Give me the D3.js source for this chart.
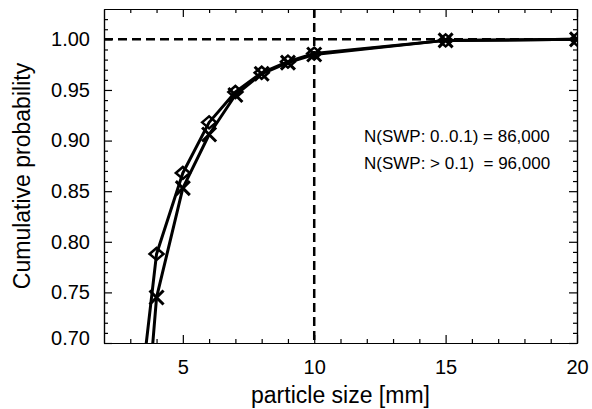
<!DOCTYPE html>
<html>
<head>
<meta charset="utf-8">
<script src="https://cdn.jsdelivr.net/npm/d3@7"></script>
<style>
  body { margin: 0; background: #fff; }
  text { font-family: "Liberation Sans", Arial, sans-serif; fill: #000; }
</style>
</head>
<body>
<svg id="chart"></svg>
<script>
const width = 592;
const height = 409;
const margin = { top: 9, right: 15, bottom: 66, left: 104 };

// data
const sizes = [3, 4, 5, 6, 7, 8, 9, 10, 15, 20];
const probSmall = [0.563, 0.788, 0.868, 0.918, 0.948, 0.967, 0.978, 0.986, 0.999, 1.0]; // diamonds
const probLarge = [0.43, 0.745, 0.853, 0.906, 0.945, 0.966, 0.977, 0.985, 0.999, 1.0]; // crosses
const xTicks = [5, 10, 15, 20];
const yTicks = [0.70, 0.75, 0.80, 0.85, 0.90, 0.95, 1.00];
const notes = ['N(SWP: 0..0.1) = 86,000', 'N(SWP: > 0.1)  = 96,000'];

const svg = d3.select('#chart').attr('width', width).attr('height', height);

const x = d3.scaleLinear().domain([2, 20]).range([margin.left, width - margin.right]);
const y = d3.scaleLinear().domain([0.7, 1.03]).range([height - margin.bottom, margin.top]);

const pBottom = y.range()[0], pTop = y.range()[1], pLeft = x.range()[0], pRight = x.range()[1];

svg.append('clipPath').attr('id', 'clip')
  .append('rect')
  .attr('x', pLeft).attr('y', pTop)
  .attr('width', pRight - pLeft)
  .attr('height', pBottom - pTop);

// axes: major + minor ticks on all four sides, pointing inward
const xMinor = d3.range(3, 20, 1).filter(d => d % 5 !== 0);
const yMinor = d3.range(71, 103, 1).filter(d => d % 5 !== 0).map(d => d / 100);

function axisGroup(axis, tx, ty) {
  const g = svg.append('g').attr('transform', `translate(${tx},${ty})`).call(axis);
  g.select('.domain').attr('stroke', '#000').attr('stroke-width', 1.2);
  g.selectAll('.tick line').attr('stroke', '#000').attr('stroke-width', 1.2);
  return g;
}

const xb = axisGroup(d3.axisBottom(x).tickValues(xTicks).tickSizeInner(-8).tickSizeOuter(0).tickPadding(17).tickFormat(d3.format('d')), 0, pBottom);
xb.selectAll('text').style('font-size', '20px');
axisGroup(d3.axisBottom(x).tickValues(xMinor).tickSizeInner(-4).tickSizeOuter(0).tickFormat(''), 0, pBottom);
axisGroup(d3.axisTop(x).tickValues(xTicks).tickSizeInner(-8).tickSizeOuter(0).tickFormat(''), 0, pTop);
axisGroup(d3.axisTop(x).tickValues(xMinor).tickSizeInner(-4).tickSizeOuter(0).tickFormat(''), 0, pTop);

const yl = axisGroup(d3.axisLeft(y).tickValues(yTicks).tickSizeInner(-8).tickSizeOuter(0).tickPadding(14).tickFormat(d3.format('.2f')), pLeft, 0);
yl.selectAll('text').style('font-size', '20px');
// lowest label sits a little above the corner, as in the original
yl.selectAll('.tick').filter(d => d === 0.70).select('text').attr('dy', '0.05em');
axisGroup(d3.axisLeft(y).tickValues(yMinor).tickSizeInner(-4).tickSizeOuter(0).tickFormat(''), pLeft, 0);
axisGroup(d3.axisRight(y).tickValues(yTicks).tickSizeInner(-8).tickSizeOuter(0).tickFormat(''), pRight, 0);
axisGroup(d3.axisRight(y).tickValues(yMinor).tickSizeInner(-4).tickSizeOuter(0).tickFormat(''), pRight, 0);

// axis titles
svg.append('text')
  .attr('x', (pLeft + pRight) / 2).attr('y', 403)
  .attr('text-anchor', 'middle').style('font-size', '23px')
  .text('particle size [mm]');
svg.append('text')
  .attr('transform', `translate(30,${(pTop + pBottom) / 2}) rotate(-90)`)
  .attr('text-anchor', 'middle').style('font-size', '23px')
  .text('Cumulative probability');

// reference lines
const plot = svg.append('g').attr('clip-path', 'url(#clip)');
plot.append('line')
  .attr('x1', pLeft).attr('x2', pRight).attr('y1', y(1)).attr('y2', y(1))
  .attr('stroke', '#000').attr('stroke-width', 2.5).attr('stroke-dasharray', '9,5');
plot.append('line')
  .attr('x1', x(10)).attr('x2', x(10)).attr('y1', pTop).attr('y2', pBottom)
  .attr('stroke', '#000').attr('stroke-width', 2.5).attr('stroke-dasharray', '9,5');

// curves
const line = d3.line().x(d => x(d[0])).y(d => y(d[1]));
[probSmall, probLarge].forEach(vals => {
  plot.append('path')
    .datum(sizes.map((s, i) => [s, vals[i]]))
    .attr('d', line)
    .attr('fill', 'none').attr('stroke', '#000').attr('stroke-width', 3)
    .attr('stroke-linejoin', 'round');
});

// markers
plot.selectAll('.diamond')
  .data(sizes.map((s, i) => [s, probSmall[i]]))
  .join('path')
  .attr('class', 'diamond')
  .attr('transform', d => `translate(${x(d[0])},${y(d[1])})`)
  .attr('d', 'M-7,0L0,-6L7,0L0,6Z')
  .attr('fill', 'none').attr('stroke', '#000').attr('stroke-width', 2.5);

plot.selectAll('.cross')
  .data(sizes.map((s, i) => [s, probLarge[i]]))
  .join('path')
  .attr('class', 'cross')
  .attr('transform', d => `translate(${x(d[0])},${y(d[1])})`)
  .attr('d', 'M-7,-7L7,7M-7,7L7,-7')
  .attr('fill', 'none').attr('stroke', '#000').attr('stroke-width', 3);

// annotations
svg.selectAll('.note')
  .data(notes)
  .join('text')
  .attr('class', 'note')
  .attr('x', 364).attr('y', (d, i) => 142 + i * 27)
  .style('font-size', '17px').style('white-space', 'pre')
  .text(d => d);
</script>
</body>
</html>
